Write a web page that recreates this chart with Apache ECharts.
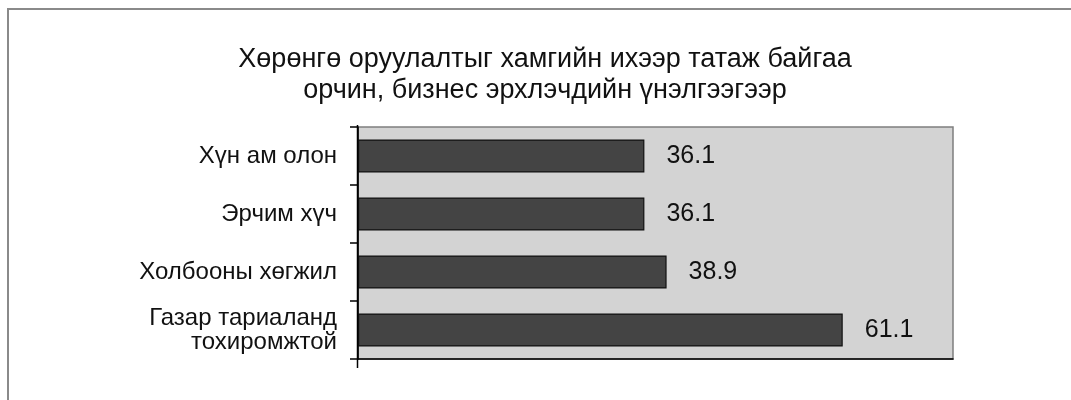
<!DOCTYPE html>
<html>
<head>
<meta charset="utf-8">
<script src="https://cdn.jsdelivr.net/npm/echarts@6/dist/echarts.min.js"></script>
<style>
html,body{margin:0;padding:0;background:#fff;}
#chart{width:1071px;height:400px;}
</style>
</head>
<body>
<div id="chart"></div>
<script>
const titleText = 'Хөрөнгө оруулалтыг хамгийн ихээр татаж байгаа\nорчин, бизнес эрхлэчдийн үнэлгээгээр';
const categories = ['Хүн ам олон', 'Эрчим хүч', 'Холбооны хөгжил', 'Газар тариаланд\nтохиромжтой'];
const values = [36.1, 36.1, 38.9, 61.1];
const valueLabels = ['36.1', '36.1', '38.9', '61.1'];
const axisMin = 0;
const axisMax = 75;

const FONT = '"Liberation Sans", Arial, sans-serif';
const chart = echarts.init(document.getElementById('chart'), null, {renderer: 'canvas'});
chart.setOption({
  backgroundColor: '#ffffff',
  animation: false,
  title: {
    text: titleText,
    left: 545,
    top: 44,
    padding: 0,
    textAlign: 'center',
    textStyle: {
      fontFamily: FONT,
      fontSize: 27,
      fontWeight: 'normal',
      color: '#111111',
      lineHeight: 31
    }
  },
  grid: {
    left: 358,
    right: 118,
    top: 127,
    bottom: 41,
    show: true,
    backgroundColor: '#d3d3d3',
    borderColor: '#7f7f7f',
    borderWidth: 1.5,
    containLabel: false
  },
  xAxis: {
    type: 'value',
    min: axisMin,
    max: axisMax,
    axisLine: {show: true, onZero: false, lineStyle: {color: '#000', width: 1.5}},
    axisTick: {show: false},
    axisLabel: {show: false},
    splitLine: {show: false}
  },
  yAxis: {
    type: 'category',
    data: categories,
    inverse: true,
    axisLine: {show: true, lineStyle: {color: '#000', width: 1.5}},
    axisTick: {show: true, length: 8, lineStyle: {color: '#000', width: 1.5}},
    axisLabel: {
      margin: 21,
      fontFamily: FONT,
      fontSize: 24,
      lineHeight: 24,
      color: '#111111',
      align: 'right'
    },
    splitLine: {show: false}
  },
  series: [{
    type: 'bar',
    data: values,
    barWidth: '57%',
    itemStyle: {color: '#444444', borderColor: '#111111', borderWidth: 1.2},
    label: {
      show: true,
      position: 'right',
      distance: 22,
      fontFamily: FONT,
      fontSize: 25,
      color: '#111111',
      formatter: p => valueLabels[p.dataIndex]
    }
  }],
  graphic: [
    {
      type: 'rect',
      silent: true,
      shape: {x: 8, y: 9, width: 1200, height: 600},
      style: {fill: 'none', stroke: '#8a8a8a', lineWidth: 2}
    },
    {
      type: 'line',
      silent: true,
      z: 100,
      shape: {x1: 357.5, y1: 125, x2: 357.5, y2: 368},
      style: {stroke: '#000', lineWidth: 1.5}
    }
  ]
});
</script>
</body>
</html>
